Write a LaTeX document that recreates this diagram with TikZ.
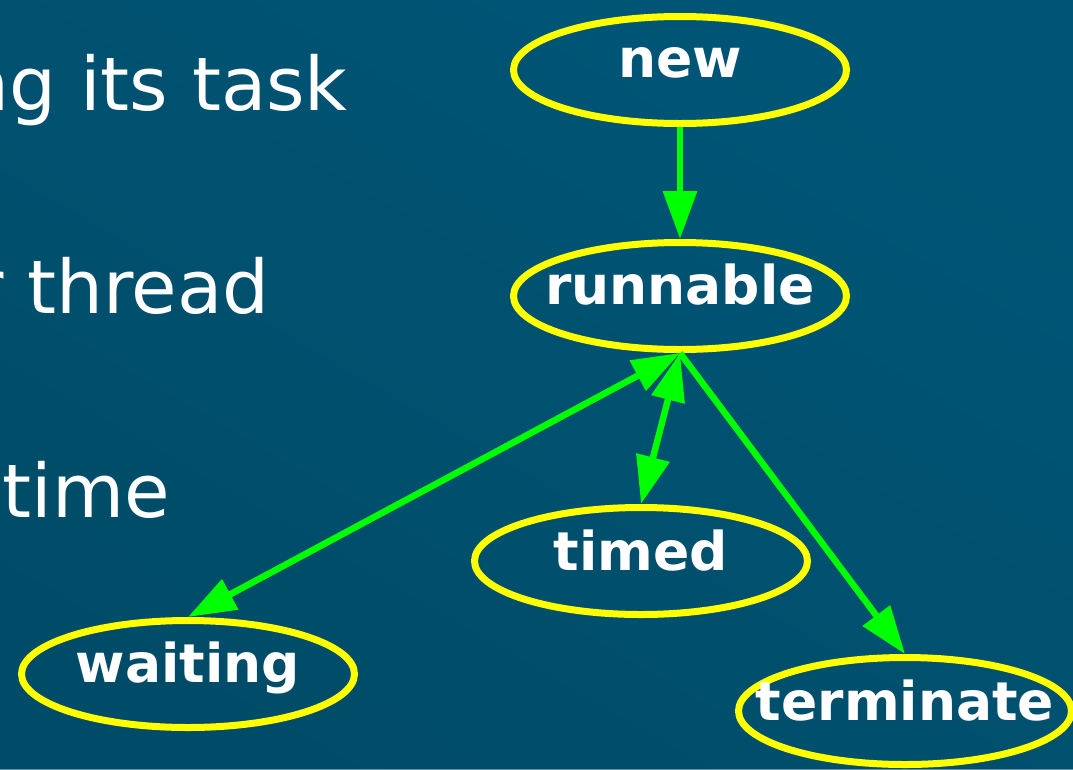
\documentclass[tikz,border=0pt]{standalone}
\usepackage{fontspec}
\setmainfont{DejaVu Sans}
\usetikzlibrary{arrows.meta,shapes.geometric}
\definecolor{bgA}{HTML}{00587A}
\definecolor{bgB}{HTML}{004862}
\definecolor{bgC}{HTML}{005272}
\definecolor{edgegreen}{HTML}{00FF00}
\definecolor{ringyellow}{HTML}{FFFF00}
\tikzset{
  state/.style={ellipse, draw=ringyellow, line width=7pt, minimum width=333pt, minimum height=107pt, inner sep=0pt},
  statetext/.style={anchor=base, text=white, font=\bfseries\fontsize{53.5}{60}\selectfont, inner sep=0pt},
  bigtext/.style={anchor=base east, text=white, font=\fontsize{74}{80}\selectfont, inner sep=0pt},
  edge/.style={draw=edgegreen, line width=6.5pt, -{Triangle[length=48pt,width=33pt]}},
  biedge/.style={draw=edgegreen, line width=6.5pt, {Triangle[length=48pt,width=33pt]}-{Triangle[length=48pt,width=33pt]}}
}
\begin{document}
\begin{tikzpicture}[x=1pt,y=-1pt]
\useasboundingbox (0,0) rectangle (1073,769);
\fill[bgC] (0,0) rectangle (1073,769);
\shade[shading=axis, left color=bgA, right color=bgB, shading angle=-30, opacity=0.6] (0,0) rectangle (1073,769);
\node[bigtext] (l1) at (348,110) {ng its task};
\node[bigtext] (l2) at (270,313) {r thread};
\node[bigtext] (l3) at (170,517) {time};
\node[state] (new) at (680,70) {};
\node[state] (runnable) at (680,296) {};
\node[state] (timed) at (641,561) {};
\node[state] (waiting) at (188,674) {};
\node[state] (terminate) at (905,711) {};
\node[statetext] (newt) at (680,77) {new};
\node[statetext] (runnablet) at (680,304) {runnable};
\node[statetext] (timedt) at (641,570) {timed};
\node[statetext] (waitingt) at (188,682) {waiting};
\node[statetext] (terminatet) at (905,720) {terminate};
\draw[edge] (new.south) -- (runnable.north);
\draw[biedge] (runnable.south) -- (timed.north);
\draw[biedge] (runnable.south) -- (waiting.north);
\draw[edge] (runnable.south) -- (terminate.north);
\end{tikzpicture}
\end{document}
